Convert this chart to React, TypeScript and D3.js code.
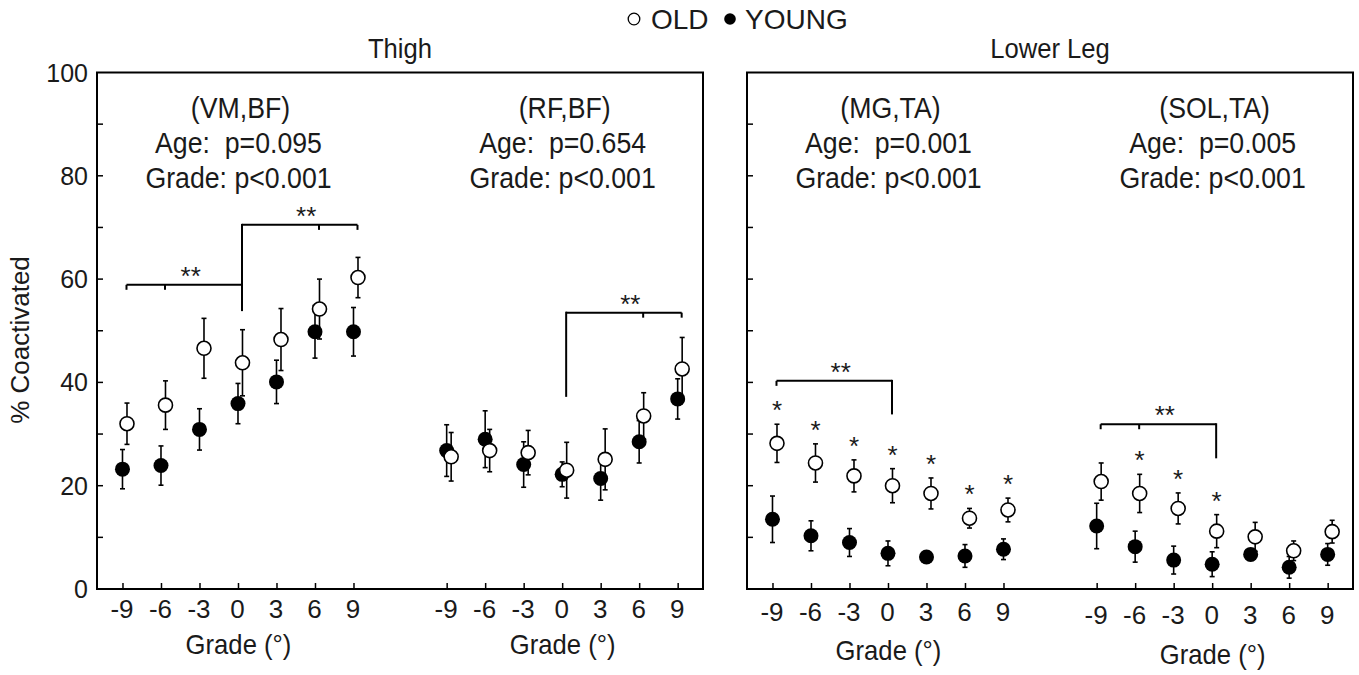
import React from 'react';
import * as d3 from 'd3';

// ---------- data ----------
const grades = [-9, -6, -3, 0, 3, 6, 9];
const yTickLabels = [0, 20, 40, 60, 80, 100];
const yTickMarks = [10, 20, 30, 40, 50, 60, 70, 80, 90];

const panelTitles = ['Thigh', 'Lower Leg'];
const legendLabels = ['OLD', 'YOUNG'];

const vmbfOld = [32.0, 35.6, 46.6, 43.8, 48.3, 54.2, 60.3];
const vmbfOldErr = [4.0, 4.7, 5.8, 6.4, 6.0, 5.8, 3.9];
const vmbfYoung = [23.2, 23.9, 30.9, 35.9, 40.1, 49.8, 49.8];
const vmbfYoungErr = [3.8, 3.8, 4.0, 3.9, 4.2, 5.1, 4.7];

const rfbfOld = [25.6, 26.8, 26.4, 23.0, 25.1, 33.5, 42.6];
const rfbfOldErr = [4.7, 4.1, 4.3, 5.4, 5.9, 4.5, 6.1];
const rfbfYoung = [26.8, 29.0, 24.1, 22.2, 21.4, 28.5, 36.8];
const rfbfYoungErr = [5.0, 5.5, 4.4, 2.4, 4.2, 4.1, 3.9];

const mgtaOld = [28.2, 24.4, 21.9, 20.0, 18.5, 13.7, 15.3];
const mgtaOldErr = [3.7, 3.7, 3.1, 3.3, 3.0, 1.9, 2.3];
const mgtaYoung = [13.5, 10.3, 9.0, 6.9, 6.2, 6.4, 7.7];
const mgtaYoungErr = [4.5, 2.9, 2.7, 2.4, 0.8, 2.2, 2.0];

const soltaOld = [20.8, 18.5, 15.6, 11.2, 10.1, 7.4, 11.1];
const soltaOldErr = [3.6, 3.7, 3.0, 3.2, 2.8, 1.9, 2.2];
const soltaYoung = [12.2, 8.2, 5.6, 4.8, 6.7, 4.2, 6.7];
const soltaYoungErr = [4.4, 3.0, 2.7, 2.4, 0.8, 2.1, 2.1];

const pairNames = ['(VM,BF)', '(RF,BF)', '(MG,TA)', '(SOL,TA)'];
const ageP = ['Age:  p=0.095', 'Age:  p=0.654', 'Age:  p=0.001', 'Age:  p=0.005'];
const gradeP = ['Grade: p<0.001', 'Grade: p<0.001', 'Grade: p<0.001', 'Grade: p<0.001'];

const mgtaStars = [-9, -6, -3, 0, 3, 6, 9];
const soltaStars = [-6, -3, 0];

// brackets: pivot at grade 0, other end, level, drop-to level, small ticks, label grade
const vmbfBrackets = [
  { end: -9, level: 58.9, dropTo: 53.8, ticks: [-9, -6], labelAt: -4 },
  { end: 9, level: 70.5, dropTo: 58.9, ticks: [6, 9], labelAt: 5 },
];
const rfbfBrackets = [{ end: 9, level: 53.5, dropTo: 37.2, ticks: [6, 9], labelAt: 5 }];
const mgtaBrackets = [{ end: -9, level: 40.3, dropTo: 33.8, ticks: [-9], labelAt: -4 }];
const soltaBrackets = [{ end: -9, level: 31.9, dropTo: 25.3, ticks: [-9, -6], labelAt: -4 }];

// ---------- layout ----------
const W = 1359;
const H = 675;
const panelX = [97, 747];
const panelW = 606;
const yTop = 72.5;
const yBot = 589;
const groupOffset = 8.42;
const FONT = 'Liberation Sans, Arial, Helvetica, sans-serif';
const TXT = '#1a1a1a';

const yScale = d3.scaleLinear().domain([0, 100]).range([yBot, yTop]);
const xScale = d3.scaleLinear().domain([-0.675, 15.065]).range([0, panelW]);

// per-subplot baselines for x tick labels and axis title
const tickBase = [618, 618, 621, 624];
const titleBase = [654, 654, 660, 664];

type Sub = {
  panel: number;
  group: number;
  name: string;
  age: string;
  grade: string;
  old: number[];
  oldErr: number[];
  young: number[];
  youngErr: number[];
  stars: number[];
  brackets: { end: number; level: number; dropTo: number; ticks: number[]; labelAt: number }[];
};

const subs: Sub[] = [
  { panel: 0, group: 0, name: pairNames[0], age: ageP[0], grade: gradeP[0], old: vmbfOld, oldErr: vmbfOldErr, young: vmbfYoung, youngErr: vmbfYoungErr, stars: [], brackets: vmbfBrackets },
  { panel: 0, group: 1, name: pairNames[1], age: ageP[1], grade: gradeP[1], old: rfbfOld, oldErr: rfbfOldErr, young: rfbfYoung, youngErr: rfbfYoungErr, stars: [], brackets: rfbfBrackets },
  { panel: 1, group: 0, name: pairNames[2], age: ageP[2], grade: gradeP[2], old: mgtaOld, oldErr: mgtaOldErr, young: mgtaYoung, youngErr: mgtaYoungErr, stars: mgtaStars, brackets: mgtaBrackets },
  { panel: 1, group: 1, name: pairNames[3], age: ageP[3], grade: gradeP[3], old: soltaOld, oldErr: soltaOldErr, young: soltaYoung, youngErr: soltaYoungErr, stars: soltaStars, brackets: soltaBrackets },
];

const gx = (panel: number, group: number, g: number) =>
  panelX[panel] + xScale(group * groupOffset + (g + 9) / 3);

const OLD_DX = 4;
const YOUNG_DX = -0.5;
const BR_DX = 3.5;

function ErrBar({ x, v, e }: { x: number; v: number; e: number }) {
  const y1 = yScale(v + e);
  const y2 = yScale(v - e);
  return (
    <g stroke="#000" strokeWidth={1.6}>
      <line x1={x} x2={x} y1={y1} y2={y2} />
      <line x1={x - 2.5} x2={x + 2.5} y1={y1} y2={y1} />
      <line x1={x - 2.5} x2={x + 2.5} y1={y2} y2={y2} />
    </g>
  );
}

// condensed text helper (tall glyphs, narrower set width like the original)
function CText({ x, y, size, sx, children, anchor = 'middle' }: any) {
  return (
    <text
      transform={`translate(${x},${y}) scale(${sx},1)`}
      textAnchor={anchor}
      fontSize={size}
      fill={TXT}
      xmlSpace="preserve"
      style={{ whiteSpace: 'pre' }}
    >
      {children}
    </text>
  );
}

export default function App() {
  return (
    <svg
      width={W}
      height={H}
      style={{ position: 'absolute', left: 0, top: 0, background: '#fff' }}
      fontFamily={FONT}
    >
      <rect x={0} y={0} width={W} height={H} fill="#fff" />

      {/* legend */}
      <circle cx={634} cy={19} r={5.8} fill="#fff" stroke="#000" strokeWidth={1.3} />
      <CText x={651} y={29} size={28} sx={1} anchor="start">{legendLabels[0]}</CText>
      <circle cx={730} cy={19} r={5.8} fill="#000" />
      <CText x={745} y={29} size={28} sx={1} anchor="start">{legendLabels[1]}</CText>

      {/* y-axis title */}
      <text
        transform={`translate(29,340) rotate(-90)`}
        textAnchor="middle"
        fontSize={26}
        fill={TXT}
      >
        % Coactivated
      </text>

      {/* y tick labels */}
      {yTickLabels.map((t) => (
        <text key={t} x={88} y={yScale(t) + 9} textAnchor="end" fontSize={25} fill={TXT}>
          {t}
        </text>
      ))}

      {panelX.map((px, p) => (
        <g key={p}>
          <CText x={px + panelW / 2} y={58} size={27} sx={0.95}>{panelTitles[p]}</CText>
          <rect x={px} y={yTop} width={panelW} height={yBot - yTop} fill="none" stroke="#000" strokeWidth={2} />
          {yTickMarks.map((t) => (
            <line key={t} x1={px} x2={px + 6} y1={yScale(t)} y2={yScale(t)} stroke="#000" strokeWidth={1.5} />
          ))}
        </g>
      ))}

      {subs.map((s, si) => {
        const cx = gx(s.panel, s.group, 0);
        return (
          <g key={si}>
            {/* x ticks and labels */}
            {grades.map((g) => (
              <g key={g}>
                <line
                  x1={gx(s.panel, s.group, g)}
                  x2={gx(s.panel, s.group, g)}
                  y1={yBot}
                  y2={yBot - 6}
                  stroke="#000"
                  strokeWidth={1.5}
                />
                <text x={gx(s.panel, s.group, g) - 1} y={tickBase[si]} textAnchor="middle" fontSize={26} fill={TXT}>
                  {g}
                </text>
              </g>
            ))}
            <CText x={cx} y={titleBase[si]} size={27} sx={0.95}>Grade (°)</CText>

            {/* annotations */}
            <CText x={cx + 2} y={118} size={30} sx={0.89}>{s.name}</CText>
            <CText x={cx} y={153} size={30} sx={0.89}>{s.age}</CText>
            <CText x={cx} y={188} size={30} sx={0.89}>{s.grade}</CText>

            {/* brackets */}
            {s.brackets.map((b, bi) => {
              const xp = gx(s.panel, s.group, 0) + BR_DX;
              const xe = gx(s.panel, s.group, b.end) + BR_DX;
              const yl = yScale(b.level);
              return (
                <g key={bi} stroke="#000" strokeWidth={2} fill="none">
                  <line x1={Math.min(xp, xe)} x2={Math.max(xp, xe)} y1={yl} y2={yl} />
                  <line x1={xp} x2={xp} y1={yl - 1} y2={yScale(b.dropTo)} />
                  {b.ticks.map((t) => (
                    <line
                      key={t}
                      x1={gx(s.panel, s.group, t) + BR_DX}
                      x2={gx(s.panel, s.group, t) + BR_DX}
                      y1={yl}
                      y2={yl + 5}
                    />
                  ))}
                  <text
                    x={gx(s.panel, s.group, b.labelAt) + BR_DX}
                    y={yl}
                    textAnchor="middle"
                    fontSize={26}
                    fill={TXT}
                    stroke="none"
                  >
                    **
                  </text>
                </g>
              );
            })}

            {/* error bars */}
            {grades.map((g, i) => (
              <ErrBar key={'ye' + g} x={gx(s.panel, s.group, g) + YOUNG_DX} v={s.young[i]} e={s.youngErr[i]} />
            ))}
            {grades.map((g, i) => (
              <ErrBar key={'oe' + g} x={gx(s.panel, s.group, g) + OLD_DX} v={s.old[i]} e={s.oldErr[i]} />
            ))}

            {/* young points */}
            {grades.map((g, i) => (
              <circle key={'y' + g} cx={gx(s.panel, s.group, g) + YOUNG_DX} cy={yScale(s.young[i])} r={7.5} fill="#000" />
            ))}
            {/* old points */}
            {grades.map((g, i) => (
              <circle
                key={'o' + g}
                cx={gx(s.panel, s.group, g) + OLD_DX}
                cy={yScale(s.old[i])}
                r={7}
                fill="#fff"
                stroke="#000"
                strokeWidth={1.6}
              />
            ))}

            {/* age significance stars */}
            {s.stars.map((g) => {
              const i = grades.indexOf(g);
              const yc = yScale(s.old[i] + s.oldErr[i]) - 20;
              return (
                <text key={'s' + g} x={gx(s.panel, s.group, g) + OLD_DX} y={yc + 15} textAnchor="middle" fontSize={26} fill={TXT}>
                  *
                </text>
              );
            })}
          </g>
        );
      })}
    </svg>
  );
}
